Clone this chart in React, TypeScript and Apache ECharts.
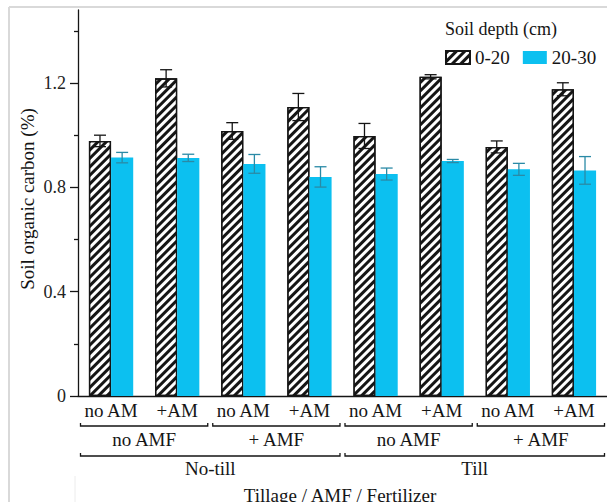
import React, { useEffect, useRef } from 'react';
import * as echarts from 'echarts';

// ---- data ----
const fertilizer = ['no AM', '+AM', 'no AM', '+AM', 'no AM', '+AM', 'no AM', '+AM'];
const amf = ['no AMF', '+ AMF', 'no AMF', '+ AMF'];
const tillage = ['No-till', 'Till'];
const seriesNames = ['0-20', '20-30'];
const depth0to20 = [0.978, 1.218, 1.016, 1.108, 0.997, 1.224, 0.955, 1.176];
const depth0to20Err = [0.022, 0.033, 0.032, 0.052, 0.048, 0.008, 0.023, 0.025];
const depth20to30 = [0.914, 0.913, 0.89, 0.84, 0.851, 0.901, 0.869, 0.865];
const depth20to30Err = [0.02, 0.014, 0.036, 0.039, 0.023, 0.006, 0.023, 0.053];
const majorTicks = [0, 0.4, 0.8, 1.2];
const minorTicks = [0.2, 0.6, 1.0, 1.4];
const yMax = 1.48;
const legendTitle = 'Soil depth (cm)';
const yTitle = 'Soil organic carbon (%)';
const xTitle = 'Tillage / AMF / Fertilizer';

const FONT = 'Liberation Serif';
const INK = '#151515';
const BLUE = '#0cc0f0';
const BLUE_ERR = '#2a8aa6';
const CAT_GAP = 0.33;

function errSeries(name: string, vals: number[], errs: number[], side: number, color: string) {
  return {
    type: 'custom',
    name,
    xAxisIndex: 0,
    yAxisIndex: 0,
    silent: true,
    z: 10,
    data: vals.map((v, i) => [i, v, errs[i]]),
    renderItem: (params: any, api: any) => {
      const i = api.value(0);
      const v = api.value(1);
      const e = api.value(2);
      const catW = api.size([1, 0])[0];
      const bw = (catW * (1 - CAT_GAP)) / 2;
      const c = api.coord([i, v]);
      const x = c[0] + (side * bw) / 2;
      const top = api.coord([i, v + e])[1];
      const bot = api.coord([i, v - e])[1];
      const half = 6;
      const st = { stroke: color, lineWidth: 1.3 };
      return {
        type: 'group',
        children: [
          { type: 'line', shape: { x1: x, y1: top, x2: x, y2: bot }, style: st },
          { type: 'line', shape: { x1: x - half, y1: top, x2: x + half, y2: top }, style: st },
          { type: 'line', shape: { x1: x - half, y1: bot, x2: x + half, y2: bot }, style: st },
        ],
      };
    },
  };
}

export default function App() {
  const ref = useRef<HTMLDivElement>(null);
  useEffect(() => {
    if (!ref.current) return;
    const chart = echarts.init(ref.current, undefined, { renderer: 'svg' });
    const axisLine = { show: true, lineStyle: { color: INK, width: 1.3 } };
    const option: any = {
      animation: false,
      backgroundColor: '#fff',
      textStyle: { fontFamily: FONT },
      grid: { left: 78, right: -7, top: 10, bottom: 106, containLabel: false },
      legend: {
        left: 445,
        top: 48,
        padding: 0,
        itemWidth: 24,
        itemHeight: 13,
        itemGap: 13,
        icon: 'rect',
        data: seriesNames,
        textStyle: { fontSize: 19, fontFamily: FONT, color: INK },
      },
      xAxis: {
        type: 'category',
        data: fertilizer,
        axisLine,
        axisTick: { show: false },
        axisLabel: { margin: 5, fontSize: 19, fontFamily: FONT, color: INK, interval: 0 },
        splitLine: { show: false },
      },
      yAxis: [
        {
          type: 'value',
          position: 'left',
          min: 0,
          max: yMax,
          interval: 0.4,
          axisLine,
          axisTick: { show: true, length: 8, customValues: majorTicks, lineStyle: { color: INK, width: 1.3 } },
          axisLabel: {
            customValues: majorTicks,
            margin: 12,
            fontSize: 18,
            fontFamily: FONT,
            color: '#222',
            formatter: (v: number) => (v === 0 ? '0' : v.toFixed(1)),
          },
          splitLine: { show: false },
        },
        {
          type: 'value',
          position: 'left',
          min: 0,
          max: yMax,
          interval: 0.4,
          axisLine: { show: false },
          axisTick: { show: true, length: 4, customValues: minorTicks, lineStyle: { color: INK, width: 1.3 } },
          axisLabel: { show: false },
          splitLine: { show: false },
        },
      ],
      series: [
        {
          type: 'bar',
          name: seriesNames[0],
          data: depth0to20,
          barGap: '0%',
          barCategoryGap: CAT_GAP * 100 + '%',
          itemStyle: {
            color: '#fff',
            borderColor: INK,
            borderWidth: 1.3,
            decal: {
              symbol: 'rect',
              symbolSize: 1,
              color: INK,
              dashArrayX: [1, 0],
              dashArrayY: [2.2, 2.8],
              rotation: -Math.PI / 4,
            },
          },
        },
        {
          type: 'bar',
          name: seriesNames[1],
          data: depth20to30,
          barGap: '0%',
          barCategoryGap: CAT_GAP * 100 + '%',
          itemStyle: { color: BLUE },
        },
        errSeries('err0', depth0to20, depth0to20Err, -1, INK),
        errSeries('err1', depth20to30, depth20to30Err, 1, BLUE_ERR),
      ],
    };
    chart.setOption(option);

    const x0 = chart.convertToPixel({ xAxisIndex: 0 }, 0) as number;
    const x1 = chart.convertToPixel({ xAxisIndex: 0 }, 1) as number;
    const cw = x1 - x0;
    const catStart = (i: number) => x0 - cw / 2 + i * cw;
    const y0 = chart.convertToPixel({ yAxisIndex: 0 }, 0) as number;
    const yTop = chart.convertToPixel({ yAxisIndex: 0 }, yMax) as number;
    const inset = 2.5;
    const lineStyle = { stroke: INK, lineWidth: 1.3, fill: null };
    const txt = (text: string, x: number, y: number, extra: any = {}) => ({
      type: 'text',
      x,
      y,
      silent: true,
      style: {
        text,
        fill: INK,
        fontSize: 19,
        fontFamily: FONT,
        align: 'center',
        verticalAlign: 'middle',
        ...extra,
      },
    });
    const bracket = (xa: number, xb: number, y: number) => ({
      type: 'polyline',
      silent: true,
      shape: { points: [[xa, y - 3], [xa, y], [xb, y], [xb, y - 3]] },
      style: lineStyle,
    });
    const graphics: any[] = [];
    // frame from the source figure
    graphics.push({ type: 'line', shape: { x1: 9, y1: 7, x2: 607, y2: 7 }, style: { stroke: '#d9d9d9', lineWidth: 2 }, silent: true });
    graphics.push({ type: 'line', shape: { x1: 9, y1: 7, x2: 9, y2: 502 }, style: { stroke: '#d9d9d9', lineWidth: 2 }, silent: true });
    graphics.push({ type: 'line', shape: { x1: 75, y1: 476, x2: 75, y2: 502 }, style: { stroke: '#ececec', lineWidth: 1 }, silent: true });
    // AMF level
    amf.forEach((lab, g) => {
      const xa = catStart(g * 2) + inset;
      const xb = catStart(g * 2 + 2) - inset;
      graphics.push(bracket(xa, xb, y0 + 30));
      graphics.push(txt(lab, (xa + xb) / 2, y0 + 43));
    });
    // tillage level
    tillage.forEach((lab, g) => {
      const xa = catStart(g * 4) + inset;
      const xb = catStart(g * 4 + 4) - inset;
      graphics.push(bracket(xa, xb, y0 + 60));
      graphics.push(txt(lab, (xa + xb) / 2, y0 + 72));
    });
    graphics.push(txt(xTitle, 340, y0 + 99));
    graphics.push({
      ...txt(yTitle, 27, (y0 + yTop) / 2 - 4, { fontSize: 19 }),
      rotation: Math.PI / 2,
    });
    graphics.push(txt(legendTitle, 445, 29, { align: 'left', fontSize: 18 }));
    chart.setOption({ graphic: graphics });

    return () => chart.dispose();
  }, []);
  return <div ref={ref} style={{ position: 'absolute', left: 0, top: 0, width: 607, height: 502 }} />;
}
